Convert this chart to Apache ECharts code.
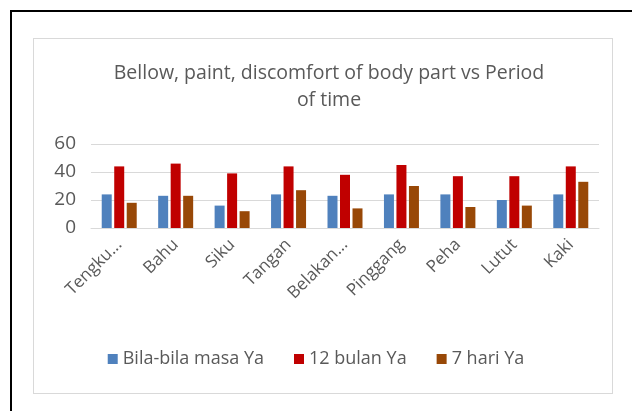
<!DOCTYPE html>
<html>
<head>
<meta charset="utf-8">
<script src="https://cdn.jsdelivr.net/npm/echarts@6/dist/echarts.min.js"></script>
<style>
	*{
		margin:0px;
		padding:0px;
	}
	body{
		width:632px;
		height:411px;
		background:#fff;
		position:relative;
		overflow:hidden;
	}
	.frame{
		position:absolute;
		left:10px;
		top:10px;
		width:640px;
		height:420px;
		border-left:2px solid #000;
		border-top:2px solid #000;
	}
	.box{
		position:absolute;
		left:33px;
		top:38px;
		width:578px;
		height:354px;
		border:1px solid #d9d9d9;
	}
	#main{
		position:absolute;
		left:0;
		top:0;
		width:632px;
		height:411px;
	}
</style>
</head>
<body>
<div class="frame"></div>
<div class="box"></div>
<div id="main"></div>
<script type="text/javascript">
var categories = ['Tengku...', 'Bahu', 'Siku', 'Tangan', 'Belakan...', 'Pinggang', 'Peha', 'Lutut', 'Kaki'];
var seriesNames = ['Bila-bila masa Ya', '12 bulan Ya', '7 hari Ya'];
var bilaBila = [24, 23, 16, 24, 23, 24, 24, 20, 24];
var duaBelasBulan = [44, 46, 39, 44, 38, 45, 37, 37, 44];
var tujuhHari = [18, 23, 12, 27, 14, 30, 15, 16, 33];
var yTicks = [0, 20, 40, 60];

var colors = ['#4f81bd', '#c00000', '#984807'];
var fontName = 'Open Sans';
var txt = '#595959';

var myChart = echarts.init(document.getElementById('main'));

function bar(name, data, i) {
    return {
        name: name,
        type: 'bar',
        data: data,
        barGap: '25%',
        barCategoryGap: '38%',
        itemStyle: { color: colors[i] }
    };
}

myChart.setOption({
    animation: false,
    textStyle: { fontFamily: fontName },
    title: {
        text: 'Bellow, paint, discomfort of body part vs Period\nof time',
        left: 324,
        textAlign: 'center',
        top: 55,
        textStyle: {
            fontFamily: fontName,
            fontSize: 19.5,
            fontWeight: 'normal',
            color: txt,
            lineHeight: 27
        }
    },
    legend: {
        bottom: 38,
        left: 'center',
        itemWidth: 10,
        itemHeight: 10,
        itemGap: 30,
        icon: 'rect',
        textStyle: { fontFamily: fontName, fontSize: 18, color: txt },
        data: seriesNames
    },
    grid: {
        left: 91,
        right: 33,
        top: 144,
        height: 84
    },
    xAxis: {
        type: 'category',
        data: categories,
        axisTick: { show: false },
        axisLine: { lineStyle: { color: '#d9d9d9', width: 1 } },
        axisLabel: {
            rotate: 45,
            interval: 0,
            fontFamily: fontName,
            fontSize: 17,
            color: txt,
            margin: 14
        }
    },
    yAxis: {
        type: 'value',
        min: yTicks[0],
        max: yTicks[yTicks.length - 1],
        interval: 20,
        axisLine: { show: false },
        axisTick: { show: false },
        splitLine: { lineStyle: { color: '#d9d9d9', width: 1 } },
        axisLabel: {
            fontFamily: fontName,
            fontSize: 19,
            color: txt,
            margin: 15
        }
    },
    series: [
        bar(seriesNames[0], bilaBila, 0),
        bar(seriesNames[1], duaBelasBulan, 1),
        bar(seriesNames[2], tujuhHari, 2)
    ]
});
</script>
</body>
</html>
